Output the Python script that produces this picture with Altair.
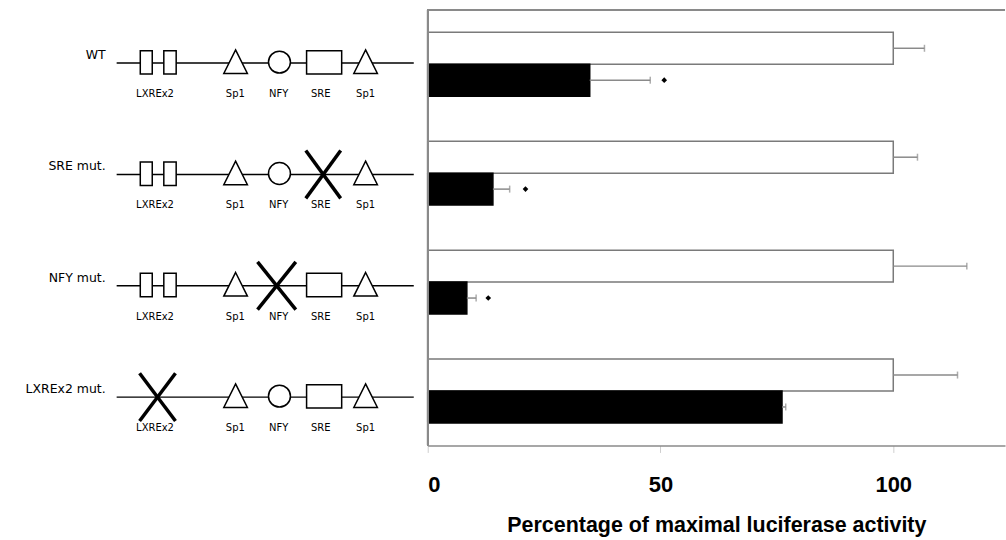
import altair as alt
import pandas as pd

# ---------------- data ----------------
constructs = ["WT", "SRE mut.", "NFY mut.", "LXREx2 mut."]
mutated = [None, "SRE", "NFY", "LXREx2"]
series = ["control", "treated"]
control_values = [100, 100, 100, 100]
control_errors = [6.7, 5.2, 15.8, 13.8]
treated_values = [34.8, 14.0, 8.4, 76.1]
treated_errors = [13.0, 3.6, 2.0, 0.8]
significance_x = [50.8, 21.0, 13.0, None]
x_ticks = [0, 50, 100]
x_title = "Percentage of maximal luciferase activity"

# ---------------- promoter schematic (positions along the drawn promoter) ----------------
promoter_span = [117, 415]
row_label_right = 106
lxre_boxes = [[140.7, 152.7], [164.3, 176.7]]
sre_box = [307.5, 342.7]
sp1_sites = [236.3, 366.7]
nfy_site = 280.3
element_labels = ["LXREx2", "Sp1", "NFY", "SRE", "Sp1"]
element_label_pos = [155.5, 236.0, 279.5, 321.7, 366.7]
cross_spans = {"SRE": [306.7, 341.7], "NFY": [258.3, 296.7], "LXREx2": [140.0, 176.0]}

FONT_AXIS = "Liberation Sans, Arial, sans-serif"
FONT_SMALL = "DejaVu Sans"

# ---------------- left panel: schematics ----------------
line_df = pd.DataFrame({"construct": constructs,
                        "x": [promoter_span[0]] * 4,
                        "x2": [promoter_span[1]] * 4,
                        "lx": [row_label_right] * 4})

box_rows = []
for c, m in zip(constructs, mutated):
    if m != "LXREx2":
        for b in lxre_boxes:
            box_rows.append({"construct": c, "x": b[0], "x2": b[1]})
    if m != "SRE":
        box_rows.append({"construct": c, "x": sre_box[0], "x2": sre_box[1]})
box_df = pd.DataFrame(box_rows)

tri_df = pd.DataFrame([{"construct": c, "x": s} for c in constructs for s in sp1_sites])

circ_df = pd.DataFrame([{"construct": c, "x": nfy_site}
                        for c, m in zip(constructs, mutated) if m != "NFY"])

lab_df = pd.DataFrame([{"construct": c, "x": p, "t": t}
                       for c in constructs
                       for t, p in zip(element_labels, element_label_pos)])

cross_df = pd.DataFrame([{"construct": c, "x": cross_spans[m][0], "x2": cross_spans[m][1]}
                         for c, m in zip(constructs, mutated) if m is not None])

lx = alt.Scale(domain=[0, 415], nice=False, zero=False)
ly = alt.Y("construct:N", sort=constructs, axis=None,
           scale=alt.Scale(type="point", padding=0.479))

base_line = alt.Chart(line_df).mark_rule(color="black", strokeWidth=1.5).encode(
    x=alt.X("x:Q", scale=lx, axis=None), x2="x2:Q", y=ly)
row_text = alt.Chart(line_df).mark_text(align="right", baseline="middle", dy=-8,
                                        font=FONT_SMALL, fontSize=12.5, color="black").encode(
    x=alt.X("lx:Q", scale=lx, axis=None), y=ly, text="construct:N")
boxes = alt.Chart(box_df).mark_rect(fill="white", stroke="black", strokeWidth=1.5,
                                    yOffset=-12.5, y2Offset=11).encode(
    x=alt.X("x:Q", scale=lx, axis=None), x2="x2:Q", y=ly, y2=alt.Y2("construct"))
tris = alt.Chart(tri_df).mark_point(shape="M0,-1L1,1L-1,1Z", size=560, filled=True,
                                    fill="white", stroke="black", strokeWidth=1.5,
                                    opacity=1, yOffset=-1.5).encode(
    x=alt.X("x:Q", scale=lx, axis=None), y=ly)
circs = alt.Chart(circ_df).mark_point(shape="circle", size=484, filled=True,
                                      fill="white", stroke="black", strokeWidth=1.5,
                                      opacity=1, yOffset=-1).encode(
    x=alt.X("x:Q", scale=lx, axis=None), y=ly)
elabels = alt.Chart(lab_df).mark_text(align="center", baseline="middle", dy=31,
                                      font=FONT_SMALL, fontSize=10, color="black").encode(
    x=alt.X("x:Q", scale=lx, axis=None), y=ly, text="t:N")
cross1 = alt.Chart(cross_df).mark_rule(color="black", strokeWidth=3.5,
                                       yOffset=-24, y2Offset=24).encode(
    x=alt.X("x:Q", scale=lx, axis=None), x2="x2:Q", y=ly, y2=alt.Y2("construct"))
cross2 = alt.Chart(cross_df).mark_rule(color="black", strokeWidth=3.5,
                                       yOffset=24, y2Offset=-24).encode(
    x=alt.X("x:Q", scale=lx, axis=None), x2="x2:Q", y=ly, y2=alt.Y2("construct"))

left = alt.layer(base_line, boxes, tris, circs, cross1, cross2, row_text, elabels).properties(
    width=415, height=442)

# ---------------- right panel: bars ----------------
bar_rows = []
for i, c in enumerate(constructs):
    bar_rows.append({"construct": c, "series": "control", "value": control_values[i],
                     "upper": control_values[i] + control_errors[i]})
    bar_rows.append({"construct": c, "series": "treated", "value": treated_values[i],
                     "upper": treated_values[i] + treated_errors[i]})
bar_df = pd.DataFrame(bar_rows)
star_df = pd.DataFrame([{"construct": c, "series": "treated", "x": s}
                        for c, s in zip(constructs, significance_x) if s is not None])

rx = alt.Scale(domain=[0, 124], nice=False, zero=True)
ry = alt.Y("construct:N", sort=constructs, axis=None,
           scale=alt.Scale(paddingInner=0.414, paddingOuter=0.207))
ryo = alt.YOffset("series:N", sort=series, scale=alt.Scale(paddingInner=0, paddingOuter=0))

xaxis = alt.Axis(values=x_ticks, grid=False, domainColor="#8a8a8a", domainWidth=1.5,
                 tickColor="#cfcfcf", tickSize=7, tickWidth=1,
                 labelFont=FONT_AXIS, labelFontWeight="bold", labelFontSize=22,
                 labelColor="black", labelPadding=22,
                 title=x_title, titleFont=FONT_AXIS, titleFontWeight="bold",
                 titleFontSize=21.5, titleColor="black", titleBaseline="alphabetic",
                 titleY=86)

bars = alt.Chart(bar_df).mark_bar(strokeWidth=1.5).encode(
    x=alt.X("value:Q", scale=rx, axis=xaxis),
    y=ry, yOffset=ryo,
    fill=alt.Fill("series:N", sort=series,
                  scale=alt.Scale(domain=series, range=["white", "black"]), legend=None),
    stroke=alt.Stroke("series:N", sort=series,
                      scale=alt.Scale(domain=series, range=["#7a7a7a", "black"]), legend=None))
errs = alt.Chart(bar_df).mark_rule(color="#8a8a8a", strokeWidth=1.5).encode(
    x="value:Q", x2="upper:Q", y=ry, yOffset=ryo)
caps = alt.Chart(bar_df).mark_tick(color="#8a8a8a", thickness=1.5, size=7, orient="vertical").encode(
    x="upper:Q", y=ry, yOffset=ryo)
stars = alt.Chart(star_df).mark_point(shape="diamond", filled=True, size=32, color="black",
                                      opacity=1).encode(
    x="x:Q", y=ry, yOffset=ryo)
left_border = alt.Chart(bar_df).mark_rule(color="#8a8a8a", strokeWidth=1.5).encode(
    x=alt.value(0), y=alt.value(0), y2=alt.value(437))
top_border = alt.Chart(bar_df).mark_rule(color="#8a8a8a", strokeWidth=1.5).encode(
    x=alt.value(0), x2=alt.value(579), y=alt.value(0))

right = alt.layer(bars, errs, caps, stars, left_border, top_border).properties(
    width=579, height=437)

chart = alt.hconcat(left, right, spacing=12).properties(
    padding={"left": 0, "top": 8, "right": 0, "bottom": 0},
    background="white"
).configure_view(stroke="transparent", strokeWidth=0)

chart.save("out.html", embed_options={"renderer": "svg", "actions": False})
